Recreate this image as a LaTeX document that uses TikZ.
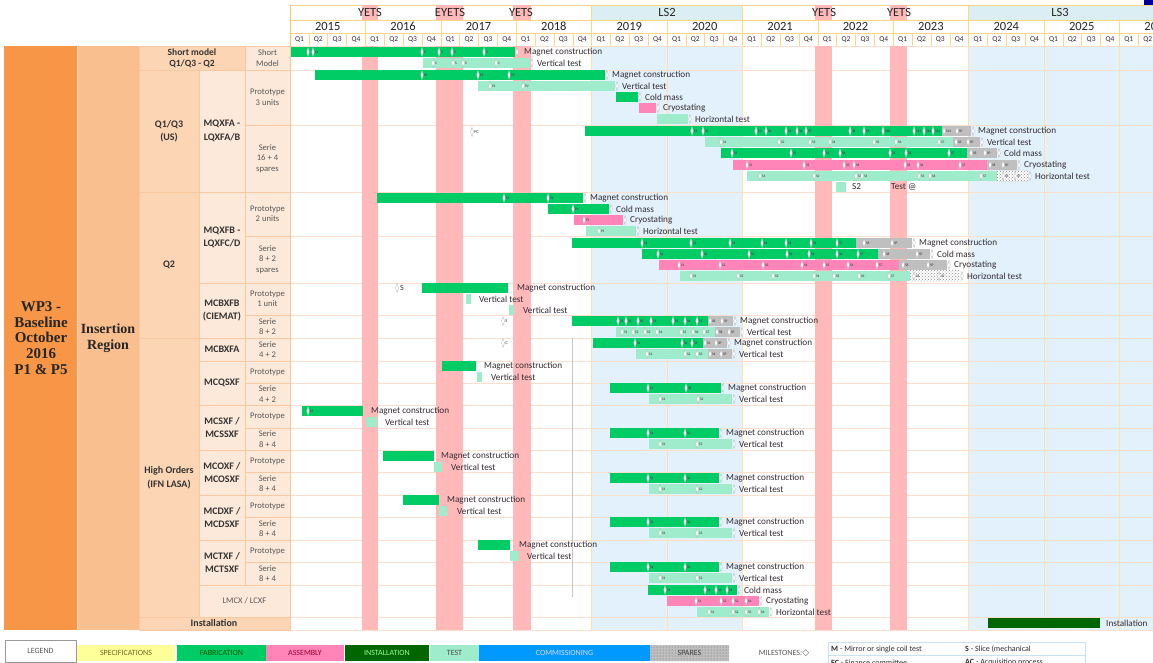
\documentclass[tikz,border=0pt]{standalone}
\usepackage{fontspec}
\setmainfont{Carlito}
\newfontfamily\wpfont{Liberation Serif}
\newfontfamily\symfont{DejaVu Sans}
\usepackage{xcolor}
\usepackage{tikz}
\usetikzlibrary{patterns}
\definecolor{wpfill}{RGB}{247,150,70}
\definecolor{irfill}{RGB}{250,191,143}
\definecolor{grpfill}{RGB}{252,213,180}
\definecolor{cellfill}{RGB}{253,233,217}
\definecolor{cellline}{RGB}{250,200,160}
\definecolor{hdrline}{RGB}{255,214,130}
\definecolor{lshead}{RGB}{218,238,243}
\definecolor{lsbody}{RGB}{226,241,251}
\definecolor{yetsband}{RGB}{255,185,185}
\definecolor{fabgreen}{RGB}{0,204,102}
\definecolor{testgreen}{RGB}{158,236,204}
\definecolor{asmpink}{RGB}{255,133,185}
\definecolor{instgreen}{RGB}{0,102,0}
\definecolor{sparegray}{RGB}{191,191,191}
\definecolor{specyellow}{RGB}{255,255,153}
\definecolor{commblue}{RGB}{0,153,255}
\definecolor{txtdark}{RGB}{52,44,52}
\definecolor{rowline}{RGB}{251,222,204}
\definecolor{legline}{RGB}{200,225,245}

\begin{document}
\begin{tikzpicture}[x=1pt, y=-1pt,
  fab/.style={fill=fabgreen},
  tst/.style={fill=testgreen},
  asm/.style={fill=asmpink},
  spr/.style={fill=sparegray},
  chk/.style={preaction={fill=white}, pattern=crosshatch dots, pattern color=gray!90},
  inst/.style={fill=instgreen},
  mstone/.style={fill=white, draw=gray!60, line width=0.3pt},
  tlabel/.style={font=\fontsize{9.2}{10}\selectfont, text=txtdark, anchor=west, inner sep=0pt},
  mslabel/.style={font=\fontsize{3.6}{4}\selectfont, text=txtdark, anchor=west, inner sep=0.2pt},
  qcell/.style={draw=hdrline, line width=0.5pt, minimum width=18.85, minimum height=13,
    inner sep=0pt, font=\fontsize{7.5}{8}\selectfont, text=txtdark},
  ycell/.style={draw=hdrline, line width=0.6pt, minimum width=75.4, minimum height=13,
    inner sep=0pt, font=\fontsize{12.5}{13}\selectfont, text=black!85},
  yetstxt/.style={font=\fontsize{12.5}{13}\selectfont, text=black!85, inner sep=0pt},
  subcell/.style={fill=cellfill, draw=cellline, line width=0.5pt},
  subtxt/.style={font=\fontsize{8.6}{10.5}\selectfont, text=black!65, align=center, inner sep=0pt},
  namecell/.style={fill=cellfill, draw=cellline, line width=0.5pt},
  nametxt/.style={font=\bfseries\fontsize{10}{13.5}\selectfont, text=black!80, align=center, inner sep=0pt},
  grpcell/.style={fill=grpfill, draw=cellline, line width=0.5pt},
  legbox/.style={minimum height=16, inner sep=0pt, font=\fontsize{8}{9}\selectfont}
]
\useasboundingbox (0,0) rectangle (1153,662);
\fill[white] (0,0) rectangle (1153,662);

% header: shutdown row, years, quarters
\filldraw[fill=white, draw=hdrline, line width=0.6pt] (290,5) rectangle (591.6,20);
\filldraw[fill=lshead, draw=hdrline, line width=0.6pt] (591.6,5) rectangle (742.4,20);
\filldraw[fill=white, draw=hdrline, line width=0.6pt] (742.4,5) rectangle (968.6,20);
\filldraw[fill=lshead, draw=hdrline, line width=0.6pt] (968.6,5) rectangle (1160,20);
\foreach \k in {0,...,11} {
  \pgfmathtruncatemacro\yr{2015+\k}
  \node[ycell, name=yr\k] at ({290+(\k+0.5)*75.4},26.5) {\yr};
}
\foreach \q in {0,...,45} {
  \pgfmathtruncatemacro\qn{mod(\q,4)+1}
  \node[qcell, name=q\q] at ({290+(\q+0.5)*18.85},39.5) {Q\qn};
}
\fill[blue!60!black] (1144,0) rectangle (1153,5);

% chart body: long shutdowns, row lines, year lines
\fill[lsbody] (591.6,46) rectangle (742.4,630);
\fill[lsbody] (968.6,46) rectangle (1153,630);
\foreach \y in {46,70,125,192,236,283,315,338,361,383,405,428,450,472,495,517,540,562,585,617,630}
  \draw[rowline, line width=0.6pt] (290,\y) -- (1153,\y);
\foreach \k in {1,...,11}
  \draw[hdrline!70, line width=0.5pt] ({290+\k*75.4},46) -- ({290+\k*75.4},630);
\draw[hdrline!80!orange, line width=0.7pt] (290,5) -- (290,630);

% year-end technical stops
\foreach \xa/\xb in {362/378, 436/463, 513/531, 815/832, 890/907} {
  \fill[yetsband] (\xa,46) rectangle (\xb,630);
  \fill[yetsband] (\xa,5.3) rectangle (\xb,19.7);
}
\foreach \x/\t [count=\n] in {370/YETS, 450/EYETS, 521/YETS, 824/YETS, 899/YETS}
  \node[yetstxt, name=yt\n] at (\x,12.5) {\t};
\node[yetstxt] (ls2) at (667,12.5) {LS2};
\node[yetstxt] (ls3) at (1060,12.5) {LS3};
\draw[gray!45, line width=0.8pt] (572,338) -- (572,597);

% left columns
\fill[wpfill] (4,46) rectangle (77,630);
\fill[irfill] (77,46) rectangle (139,630);
\draw[cellline!60, line width=0.5pt] (77,46) -- (77,630);
\node[font=\wpfont\bfseries\fontsize{15}{15.8}\selectfont, text=black!85, align=center] (wp)
  at (41,338) {WP3 -\\Baseline\\October\\2016\\P1 \& P5};
\node[font=\wpfont\bfseries\fontsize{14}{15.5}\selectfont, text=black!85, align=center] (ir)
  at (108,338) {Insertion\\Region};
\foreach \ya/\yb/\txt [count=\n] in {70/192/{Q1/Q3\\(US)}, 192/338/Q2, 338/617/{High Orders\\(IFN LASA)}} {
  \filldraw[grpcell] (139,\ya) rectangle (199,\yb);
  \node[nametxt, name=grp\n] at (169,{(\ya+\yb)/2}) {\txt};
}
\foreach \ya/\yb/\txt [count=\n] in {70/192/{MQXFA -\\LQXFA/B}, 192/283/{MQXFB -\\LQXFC/D},
    283/338/{MCBXFB\\(CIEMAT)}, 338/361/MCBXFA, 361/405/MCQSXF, 405/450/{MCSXF /\\MCSSXF},
    450/495/{MCOXF /\\MCOSXF}, 495/540/{MCDXF /\\MCDSXF}, 540/585/{MCTXF /\\MCTSXF}} {
  \filldraw[namecell] (199,\ya) rectangle (245,\yb);
  \node[nametxt, name=mag\n] at (222,{(\ya+\yb)/2}) {\txt};
}
\foreach \ya/\yb/\txt [count=\n] in {46/70/{Short\\Model}, 70/125/{Prototype\\3 units},
    125/192/{Serie\\16 + 4\\spares}, 192/236/{Prototype\\2 units}, 236/283/{Serie\\8 + 2\\spares},
    283/315/{Prototype\\1 unit}, 315/338/{Serie\\8 + 2}, 338/361/{Serie\\4 + 2},
    361/383/Prototype, 383/405/{Serie\\4 + 2}, 405/428/Prototype, 428/450/{Serie\\8 + 4},
    450/472/Prototype, 472/495/{Serie\\8 + 4}, 495/517/Prototype, 517/540/{Serie\\8 + 4},
    540/562/Prototype, 562/585/{Serie\\8 + 4}} {
  \filldraw[subcell] (245,\ya) rectangle (290,\yb);
  \node[subtxt, name=sub\n] at (267.5,{(\ya+\yb)/2}) {\txt};
}
\filldraw[grpcell] (139,46) rectangle (245,70);
\node[nametxt, font=\bfseries\fontsize{9.5}{11}\selectfont] (short) at (192,58) {Short model\\Q1/Q3 - Q2};
\filldraw[namecell] (199,585) rectangle (290,617);
\node[subtxt] (lmcx) at (244.5,601) {LMCX / LCXF};
\filldraw[grpcell] (139,617) rectangle (290,630);
\node[nametxt] (inst) at (214,623.5) {Installation};

% task bars
\foreach \st/\xa/\xb/\y in {
  fab/291/515/52, tst/423/530/63,
  fab/315/605/75, tst/478/615/86, fab/616/638/97, asm/639/656/108, tst/657/688/119,
  fab/585/942/131, spr/942/971/131, tst/705/953/142, spr/953/980/142,
  fab/721/967/153, spr/967/997/153, asm/733/987/165, spr/987/1017/165,
  tst/747/997/176, chk/997/1028/176, tst/836/846/187,
  fab/377/583/198, fab/548/609/209, asm/574/623/220, tst/586/636/231,
  fab/572/856/243, spr/856/912/243, fab/642/878/254, spr/878/930/254,
  asm/659/899/265, spr/899/947/265, tst/680/910/276, chk/910/960/276,
  fab/422/508/288, tst/466/471/299, tst/509/514/310,
  fab/572/708/321, spr/708/733/321, tst/616/715/332, spr/715/740/332,
  fab/593/703/343, spr/703/727/343, tst/636/708/354, spr/708/732/354,
  fab/442/476/366, tst/477/482/377, fab/610/721/388, tst/649/732/399,
  fab/302/363/411, tst/366/377/422, fab/610/719/433, tst/649/732/444,
  fab/383/434/456, tst/434/442/467, fab/610/719/478, tst/649/732/489,
  fab/403/439/500, tst/439/447/511, fab/610/719/522, tst/649/732/533,
  fab/478/510/545, tst/510/519/556, fab/610/719/567, tst/649/732/578,
  fab/648/737/590, asm/667/759/601, tst/697/769/612,
  inst/988/1100/623}
  \path[\st] (\xa,\y-5.2) rectangle (\xb,\y+5.2);

% milestones
\foreach \x/\y/\t [count=\n] in {
  308/52/{}, 313/52/M, 422/52/S, 439/52/S, 452/52/S, 484/52/S, 517/52/{},
  433/63/S, 453/63/S, 463/63/S, 496/63/S, 532/63/{},
  422/75/M, 478/75/P1, 509/75/P2, 607/75/{}, 490/86/P1, 523/86/P2, 617/86/{},
  640/97/{}, 658/108/{}, 690/119/{},
  692/131/S1, 703/131/S2, 756/131/S3, 766/131/S4, 786/131/S5, 797/131/S6, 806/131/S7,
  850/131/S8, 864/131/S9, 883/131/S10, 914/131/S11, 924/131/S12, 933/131/S13,
  944/131/S14, 957/131/SP, 973/131/{},
  721/142/S1, 779/142/S2, 810/142/S3, 830/142/S4, 874/142/S5, 896/142/S6, 939/142/S7,
  956/142/S8, 968/142/SP, 982/142/{},
  732/153/S1, 791/153/S2, 824/153/S3, 840/153/S4, 890/153/S5, 906/153/S6, 949/153/S7,
  971/153/S8, 985/153/SP, 999/153/{},
  747/165/S1, 804/165/S2, 844/165/S3, 854/165/S4, 905/165/S5, 918/165/S6, 960/165/S7,
  990/165/S8, 1003/165/SP, 1019/165/{},
  760/176/S1, 814/176/S2, 856/176/S3, 862/176/S4, 919/176/S5, 930/176/S6, 981/176/S7,
  1003/176/S8, 1015/176/SP, 1030/176/{},
  504/198/M, 548/198/P1, 585/198/{}, 573/209/P1, 611/209/{},
  584/220/P1, 625/220/{}, 599/231/P1, 638/231/{},
  642/243/S1, 691/243/S2, 730/243/S3, 762/243/S4, 786/243/S5, 811/243/S6, 837/243/S7,
  864/243/S8, 892/243/SP, 914/243/{},
  658/254/S1, 702/254/S2, 749/254/S3, 787/254/S4, 809/254/S5, 837/254/S6, 858/254/S7,
  884/254/S8, 917/254/SP, 932/254/{},
  679/265/S1, 720/265/S2, 763/265/S3, 802/265/S4, 824/265/S5, 848/265/S6, 877/265/S7,
  903/265/S8, 928/265/SP, 949/265/{},
  691/276/S1, 738/276/S2, 773/276/S3, 814/276/S4, 834/276/S5, 859/276/S6, 889/276/S7,
  914/276/S8, 939/276/SP, 962/276/{},
  618/321/S1, 626/321/S2, 638/321/S3, 651/321/S4, 673/321/S5, 685/321/S6, 697/321/S7,
  710/321/S8, 722/321/SP, 735/321/{},
  622/332/S1, 633/332/S2, 645/332/S3, 657/332/S4, 681/332/S5, 693/332/S6, 704/332/S7,
  717/332/S8, 729/332/SP, 742/332/{},
  635/343/S1, 682/343/S2, 692/343/S3, 705/343/S4, 716/343/SP, 729/343/{},
  647/354/S1, 685/354/S2, 697/354/S3, 710/354/S4, 721/354/SP, 734/354/{},
  648/388/S1, 686/388/S2, 723/388/{}, 660/399/S1, 698/399/S2, 734/399/{},
  308/411/M,
  648/433/S1, 685/433/S2, 721/433/{}, 660/444/S1, 697/444/S2, 734/444/{},
  648/478/S1, 685/478/S2, 721/478/{}, 660/489/S1, 697/489/S2, 734/489/{},
  648/522/S1, 685/522/S2, 721/522/{}, 660/533/S1, 697/533/S2, 734/533/{},
  648/567/S1, 685/567/S2, 721/567/{}, 660/578/S1, 697/578/S2, 734/578/{},
  665/590/S1, 705/590/S2, 716/590/S3, 727/590/S4, 739/590/{},
  696/601/S1, 721/601/S2, 733/601/S3, 746/601/S4, 761/601/{},
  709/612/S1, 733/612/S2, 746/612/S3, 759/612/S4, 771/612/{}} {
  \filldraw[mstone] (\x,\y-4.5) -- (\x+1.3,\y) -- (\x,\y+4.5) -- (\x-1.3,\y) -- cycle;
  \node[mslabel, name=ms\n] at (\x+1.6,\y) {\t};
}
% open milestones ahead of the bars
\foreach \x/\y/\t [count=\n] in {472/132/FC, 503/321/S, 503/343/C} {
  \filldraw[mstone] (\x,\y-4.5) -- (\x+1.5,\y) -- (\x,\y+4.5) -- (\x-1.5,\y) -- cycle;
  \node[mslabel, font=\fontsize{4.5}{5}\selectfont, name=om\n] at (\x+2,\y) {\t};
}
\filldraw[mstone] (397,283.5) -- (398.6,288) -- (397,292.5) -- (395.4,288) -- cycle;
\node[tlabel, font=\fontsize{8}{9}\selectfont] (oms) at (400,288) {S};

% task labels
\foreach \x/\y/\txt [count=\n] in {
  524/52/Magnet construction, 537/63/Vertical test,
  612/75/Magnet construction, 622/86/Vertical test, 645/97/Cold mass,
  663/108/Cryostating, 695/119/Horizontal test,
  978/131/Magnet construction, 987/142/Vertical test, 1004/153/Cold mass,
  1024/165/Cryostating, 1035/176/Horizontal test, 852/187/S2, 891/187/Test @,
  590/198/Magnet construction, 616/209/Cold mass, 630/220/Cryostating, 643/231/Horizontal test,
  919/243/Magnet construction, 937/254/Cold mass, 954/265/Cryostating, 967/276/Horizontal test,
  517/288/Magnet construction, 479/299/Vertical test, 523/310/Vertical test,
  740/321/Magnet construction, 747/332/Vertical test,
  734/343/Magnet construction, 739/354/Vertical test,
  484/366/Magnet construction, 491/377/Vertical test,
  728/388/Magnet construction, 739/399/Vertical test,
  371/411/Magnet construction, 385/422/Vertical test,
  726/433/Magnet construction, 739/444/Vertical test,
  441/456/Magnet construction, 451/467/Vertical test,
  726/478/Magnet construction, 739/489/Vertical test,
  447/500/Magnet construction, 457/511/Vertical test,
  726/522/Magnet construction, 739/533/Vertical test,
  519/545/Magnet construction, 527/556/Vertical test,
  726/567/Magnet construction, 739/578/Vertical test,
  744/590/Cold mass, 766/601/Cryostating, 776/612/Horizontal test,
  1106/623/Installation}
  \node[tlabel, name=lbl\n] at (\x,\y) {\txt};

% legend
\node[draw=gray!80, line width=0.6pt, fill=white, minimum width=71, minimum height=22,
  inner sep=0pt, font=\fontsize{8}{9}\selectfont, text=black!65] (lgd) at (40.5,651) {LEGEND};
\foreach \xa/\xb/\fc/\tc/\t [count=\n] in {
  77/175/specyellow/olive!70!black/SPECIFICATIONS, 177/266/fabgreen/green!35!black/FABRICATION,
  266/344/asmpink/purple!80!black/ASSEMBLY, 345/429/instgreen/green!40/INSTALLATION,
  430/479/testgreen/black!70/TEST, 479/650/commblue/blue!15/COMMISSIONING}
  \node[legbox, fill=\fc, text=\tc, minimum width={\xb-\xa}, name=leg\n]
    at ({(\xa+\xb)/2},653) {\t};
\node[legbox, fill=sparegray, postaction={pattern=dots, pattern color=gray!75!black},
  text=black!75, minimum width=79] (legsp) at (689.5,653) {SPARES};
\node[legbox, text=black!65] (legms) at (784,653) {MILESTONES:{\symfont\fontsize{9}{9}\selectfont ◇}};
\draw[legline, line width=0.6pt] (828,642) rectangle (1085,672);
\draw[legline, line width=0.6pt] (828,655.5) -- (1085,655.5);
\node[tlabel, font=\fontsize{8}{9}\selectfont] (keym) at (831,649) {\textbf{M} - Mirror or single coil test};
\node[tlabel, font=\fontsize{8}{9}\selectfont] (keys) at (965,649) {\textbf{S} - Slice (mechanical};
\node[tlabel, font=\fontsize{8}{9}\selectfont] (keyfc) at (831,662.5) {\textbf{FC} - Finance committee};
\node[tlabel, font=\fontsize{8}{9}\selectfont] (keyac) at (965,662.5) {\textbf{AC} - Acquisition process};
\end{tikzpicture}
\end{document}
